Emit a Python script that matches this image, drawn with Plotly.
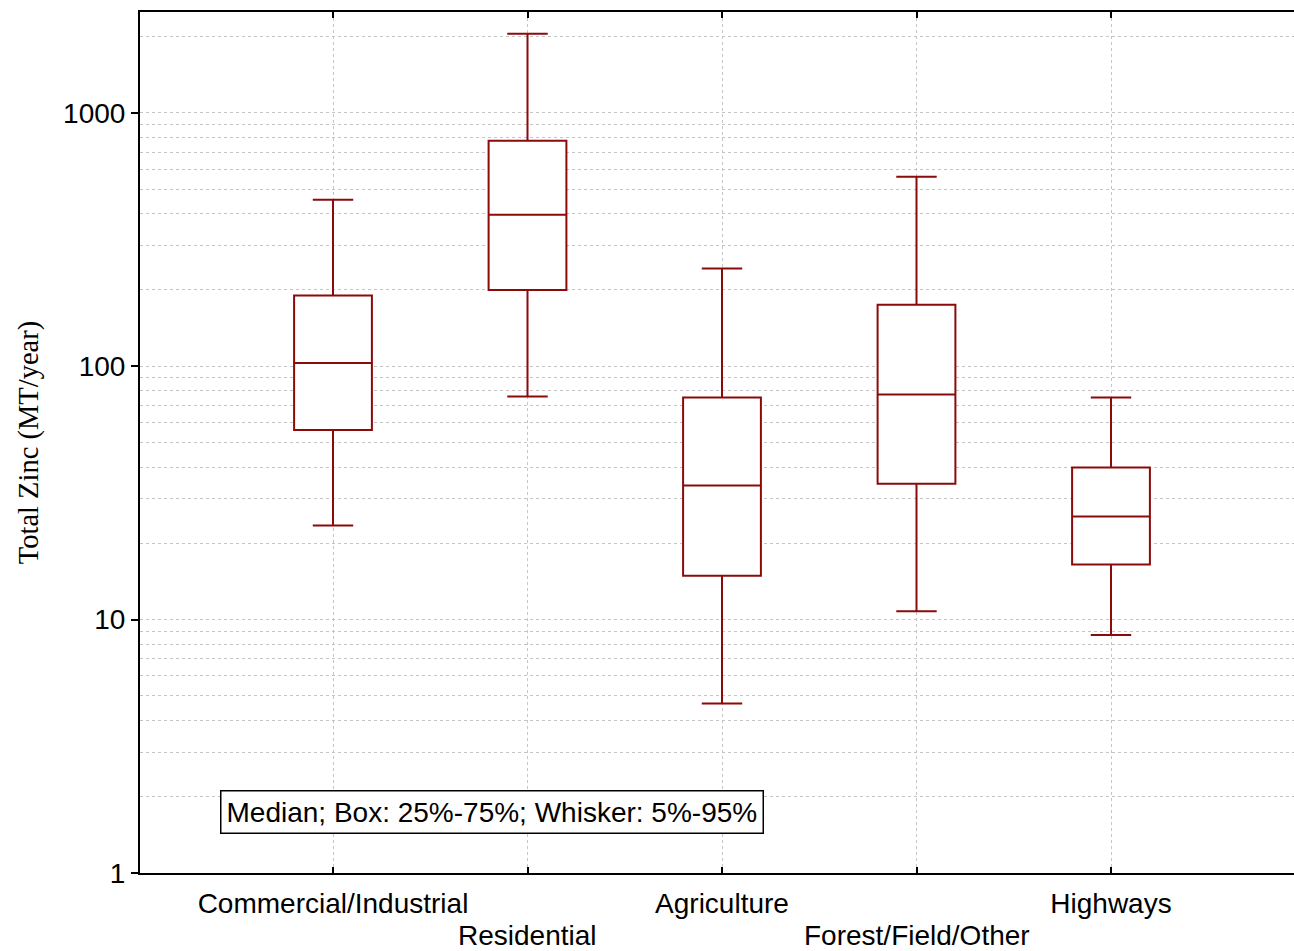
import plotly.graph_objects as go

# Land-use categories and percentile summaries of total zinc load (MT/year)
categories = ["Commercial/Industrial", "Residential", "Agriculture",
              "Forest/Field/Other", "Highways"]
p05 = [23.5, 76.0, 4.67, 10.8, 8.7]
p25 = [56.0, 200.0, 14.9, 34.4, 16.5]
p50 = [103.0, 396.0, 33.8, 77.3, 25.5]
p75 = [190.0, 776.0, 75.2, 175.0, 39.8]
p95 = [454.0, 2050.0, 243.0, 560.0, 75.2]

positions = list(range(len(categories)))
# long category labels are staggered: even ones on the axis, odd ones one row lower
top_row = [c if i % 2 == 0 else "" for i, c in enumerate(categories)]

line_color = "#8B0A0A"
grid_color = "#c4c4c4"
label_font = dict(family="Liberation Sans, Arial, sans-serif", size=28, color="black")

fig = go.Figure()
fig.add_trace(go.Box(
    x=positions,
    q1=p25, median=p50, q3=p75,
    lowerfence=p05, upperfence=p95,
    width=0.4,
    whiskerwidth=0.52,
    fillcolor="white",
    line=dict(color=line_color, width=2),
    boxpoints=False,
    showlegend=False,
    hoverinfo="skip",
))

for i, c in enumerate(categories):
    if i % 2 == 1:
        fig.add_annotation(
            text=c, x=positions[i], xref="x", y=0, yref="paper",
            xanchor="center", yanchor="top", yshift=-45,
            showarrow=False, font=label_font,
        )

fig.add_annotation(
    text="Median; Box: 25%-75%; Whisker: 5%-95%",
    xref="paper", yref="paper", x=0.305, y=0.0708,
    xanchor="center", yanchor="middle",
    showarrow=False,
    font=label_font,
    bgcolor="white", bordercolor="black", borderwidth=1.5, borderpad=5,
)

fig.update_layout(
    width=1294, height=951,
    margin=dict(l=140, r=0, t=12, b=78),
    paper_bgcolor="white", plot_bgcolor="white",
    font=label_font,
    xaxis=dict(
        range=[-0.9923, 4.9409],
        tickmode="array", tickvals=positions, ticktext=top_row,
        tickangle=0, ticklabelstandoff=4,
        showgrid=True, gridcolor=grid_color, griddash="dot", gridwidth=1,
        zeroline=False,
        showline=True, linecolor="black", linewidth=2, mirror="ticks",
        ticks="inside", ticklen=6, tickwidth=2, tickcolor="black",
        tickfont=label_font,
    ),
    yaxis=dict(
        type="log", range=[0, 3.398],
        tickmode="array", tickvals=[1, 10, 100, 1000],
        ticktext=["1", "10", "100", "1000"],
        showgrid=True, gridcolor=grid_color, griddash="dot", gridwidth=1,
        minor=dict(dtick="D1", showgrid=True, gridcolor=grid_color,
                   griddash="dot", gridwidth=1, ticks=""),
        zeroline=False,
        showline=True, linecolor="black", linewidth=2,
        ticks="outside", ticklen=7, tickwidth=2, tickcolor="black",
        tickfont=label_font,
        title=dict(text="Total Zinc (MT/year)", standoff=16,
                   font=dict(family="Liberation Serif, Times New Roman, serif",
                             size=28.5, color="black")),
    ),
)

fig.write_html("out.html")
